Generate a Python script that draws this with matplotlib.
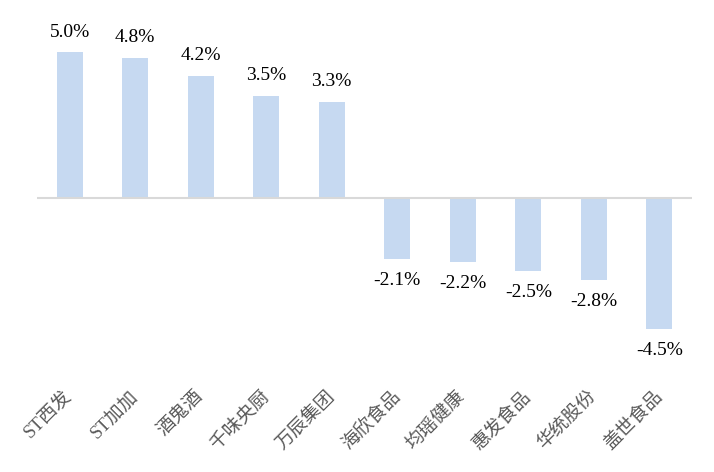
import matplotlib
matplotlib.use("Agg")
import matplotlib.pyplot as plt

categories = ["ST西发", "ST加加", "酒鬼酒", "千味央厨", "万辰集团",
              "海欣食品", "均瑶健康", "惠发食品", "华统股份", "盖世食品"]
values = [5.0, 4.8, 4.2, 3.5, 3.3, -2.1, -2.2, -2.5, -2.8, -4.5]

fonts = ["Liberation Serif", "Noto Sans CJK SC"]

fig = plt.figure(figsize=(7.14, 4.72), dpi=100)
ax = fig.add_axes([0.0518, 0.21, 0.9174, 0.741])

x = list(range(len(categories)))
ax.bar(x, values, width=0.40, color="#C6D9F1", zorder=2)
ax.axhline(0, color="#D9D9D9", linewidth=1.5, zorder=3)
ax.set_xlim(-0.5, len(categories) - 0.5)
ax.set_ylim(-6, 6)

for xi, v in zip(x, values):
    if v >= 0:
        ax.text(xi, v + 0.4, f"{v:.1f}%", ha="center", va="bottom",
                fontsize=14, family=fonts, color="black")
    else:
        ax.text(xi, v - 0.45, f"{v:.1f}%", ha="center", va="top",
                fontsize=14, family=fonts, color="black")

ax.set_xticks(x)
ax.set_xticklabels(categories, rotation=45, ha="right", va="center",
                   rotation_mode="anchor", fontsize=13.5, color="#595959",
                   family=fonts)
ax.tick_params(axis="x", length=0, pad=15)
ax.set_yticks([])
for s in ax.spines.values():
    s.set_visible(False)

fig.savefig("out.png", dpi=100)
